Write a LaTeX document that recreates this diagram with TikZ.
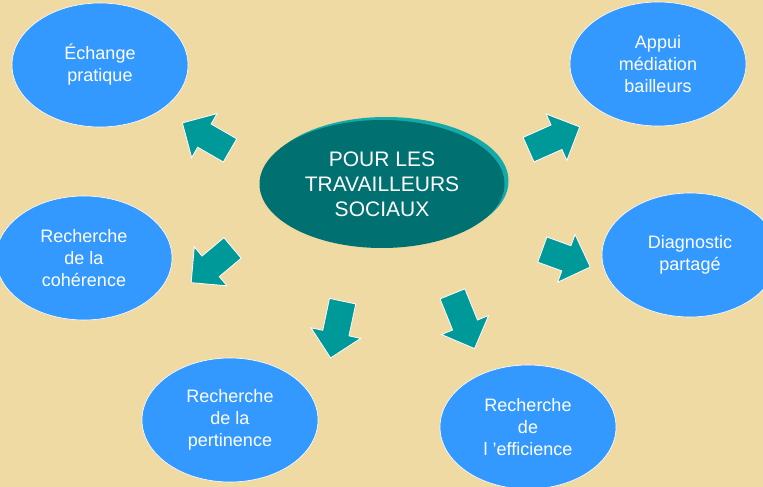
\documentclass[tikz,border=0pt]{standalone}
\usepackage{fontspec}
\setmainfont{Liberation Sans}
\usetikzlibrary{shapes.geometric,shapes.arrows}
\definecolor{fond}{RGB}{240,218,164}
\definecolor{bleu}{RGB}{51,153,255}
\definecolor{sarcelle}{RGB}{0,153,153}
\definecolor{sombre}{RGB}{0,112,112}
\definecolor{reflet}{RGB}{20,170,170}
\begin{document}
\begin{tikzpicture}[x=1pt,y=-1pt,
  bulle/.style={ellipse, fill=bleu, draw=white, line width=0.6pt, minimum width=176pt, minimum height=124pt, inner sep=0pt, text=white, align=center, font=\fontsize{18}{22}\selectfont},
  fleche/.style={single arrow, fill=sarcelle, draw=white, line width=0.8pt, inner xsep=0pt, inner ysep=13pt, single arrow head extend=12pt, minimum width=0pt}]
\clip (0,0) rectangle (763,487);
\fill [fond] (0,0) rectangle (763,487);
\node [bulle] (echange) at (100,65) {Échange\\pratique};
\node [bulle] (appui) at (658,64) {Appui\\médiation\\bailleurs};
\node [bulle] (coherence) at (84,258) {Recherche\\de la\\cohérence};
\node [bulle] (diagnostic) at (690,255) {Diagnostic\\partagé};
\node [bulle] (pertinence) at (230,420) {Recherche\\de la\\pertinence};
\node [bulle] (efficience) at (528,427) {Recherche\\de\\l ’efficience};
\node [ellipse, fill=reflet, minimum width=245pt, minimum height=128pt] (rim) at (386,181) {};
\node [ellipse, fill=sombre, minimum width=245pt, minimum height=128pt, inner sep=0pt, text=white, align=center, font=\fontsize{21}{25}\selectfont] (centre) at (382,184) {POUR LES\\TRAVAILLEURS\\SOCIAUX};
\node [fleche, minimum height=55pt, rotate=150] (f1) at (212,140) {};
\node [fleche, minimum height=56pt, rotate=24] (f2) at (548,141) {};
\node [fleche, minimum height=54pt, rotate=220] (f3) at (217,261) {};
\node [fleche, minimum height=58pt, rotate=258] (f4) at (338,323) {};
\node [fleche, minimum height=59pt, rotate=-68] (f5) at (461,315) {};
\node [fleche, minimum height=51pt, rotate=-20] (f6) at (560,256) {};
\end{tikzpicture}
\end{document}
